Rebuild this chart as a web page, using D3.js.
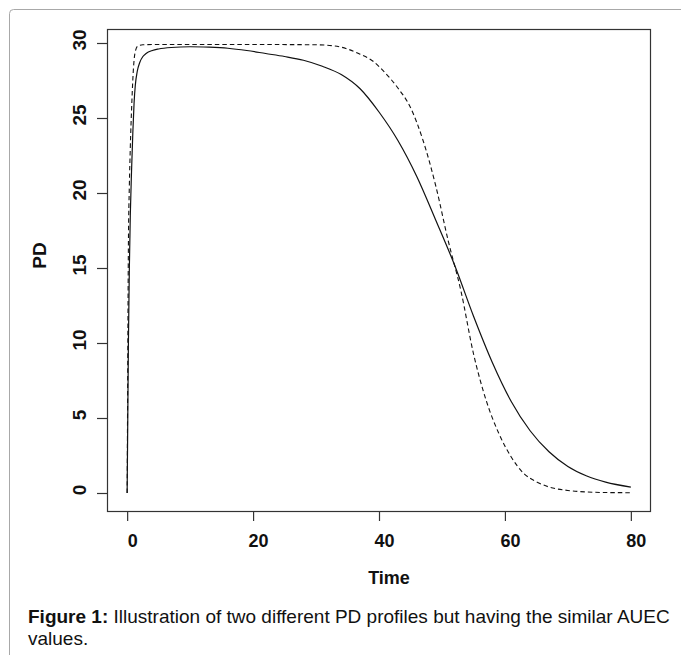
<!DOCTYPE html>
<html>
<head>
<meta charset="utf-8">
<script src="https://cdn.jsdelivr.net/npm/d3@7"></script>
<style>
  html, body { margin: 0; padding: 0; background: #fff; }
  svg { display: block; }
</style>
</head>
<body>
<script>
// ---- data ----
const solidTime  = [0, 0.1, 0.2, 0.35, 0.5, 0.7, 0.9, 1.1, 1.3, 1.6, 2, 2.5, 3, 4, 5, 7, 10, 13, 16, 19, 22, 25, 28, 31, 34, 37, 40, 43, 46, 49, 52, 55, 58, 61, 64, 67, 70, 73, 76, 80];
const solidPD    = [0, 5, 10, 15, 18.5, 21.5, 24, 26, 27.2, 28.1, 28.7, 29.1, 29.3, 29.5, 29.6, 29.7, 29.75, 29.72, 29.65, 29.5, 29.3, 29.1, 28.85, 28.45, 27.9, 26.95, 25.4, 23.5, 21.1, 18.2, 15.2, 11.8, 8.7, 6.1, 4.15, 2.75, 1.77, 1.13, 0.72, 0.39];
const dashedTime = [0, 0.05, 0.1, 0.2, 0.35, 0.5, 0.75, 1.0, 1.3, 1.7, 2.5, 5, 10, 20, 30, 33, 35, 37, 39, 41, 43, 45, 47, 49, 51, 53, 55, 57, 59, 61, 63, 65, 67, 70, 73, 76, 80];
const dashedPD   = [0, 4, 9, 16.5, 20.5, 23, 26.1, 28.3, 29.45, 29.8, 29.88, 29.9, 29.9, 29.9, 29.88, 29.8, 29.6, 29.25, 28.8, 28.0, 27.0, 25.7, 23.5, 20.5, 16.8, 13.5, 9.3, 6.2, 4.0, 2.4, 1.3, 0.75, 0.4, 0.17, 0.07, 0.03, 0.02];
const xTicks = [0, 20, 40, 60, 80];
const yTicks = [0, 5, 10, 15, 20, 25, 30];
const xTitle = "Time";
const yTitle = "PD";
const captionBold = "Figure 1:";
const captionLine1 = " Illustration of two different PD profiles but having the similar AUEC";
const captionLine2 = "values.";

// ---- layout ----
const W = 681, H = 655;
const plot = { left: 107, right: 651, top: 29, bottom: 512 };

const svg = d3.select("body").append("svg")
  .attr("width", W).attr("height", H);

// outer figure frame
svg.append("rect")
  .attr("x", 9.5).attr("y", 9.5)
  .attr("width", 720).attr("height", 720)
  .attr("rx", 4).attr("ry", 4)
  .attr("fill", "none")
  .attr("stroke", "#a8a8a8")
  .attr("stroke-width", 1);

const x = d3.scaleLinear().domain([-3.2, 83.2]).range([plot.left, plot.right]);
const y = d3.scaleLinear().domain([-1.2667, 30.9333]).range([plot.bottom, plot.top]);

const font = "'Liberation Sans', Arial, Helvetica, sans-serif";
const ink = "#111";

// plot box
svg.append("rect")
  .attr("x", plot.left + 0.5).attr("y", plot.top + 0.5)
  .attr("width", plot.right - plot.left - 1)
  .attr("height", plot.bottom - plot.top - 1)
  .attr("fill", "none")
  .attr("stroke", "#333")
  .attr("stroke-width", 1.2);

// x axis (R style: ticks below box)
const gx = svg.append("g").attr("transform", `translate(0,${plot.bottom})`);
gx.call(d3.axisBottom(x).tickValues(xTicks).tickSize(9).tickFormat(d3.format("d")));
gx.select(".domain").remove();
gx.selectAll(".tick line").attr("stroke", "#333").attr("stroke-width", 1.2);
gx.selectAll(".tick text")
  .attr("y", 0).attr("dy", null)
  .attr("transform", "translate(5,29)")
  .attr("dominant-baseline", "central")
  .style("font-family", font).style("font-size", "18px").style("font-weight", "bold")
  .attr("fill", ink);

// y axis
const gy = svg.append("g").attr("transform", `translate(${plot.left},0)`);
gy.call(d3.axisLeft(y).tickValues(yTicks).tickSize(10).tickFormat(d3.format("d")));
gy.select(".domain").remove();
gy.selectAll(".tick line").attr("stroke", "#333").attr("stroke-width", 1.2);
gy.selectAll(".tick text")
  .attr("x", 0).attr("dy", null)
  .attr("text-anchor", "middle")
  .attr("dominant-baseline", "central")
  .attr("transform", "translate(-28,-3.5) rotate(-90)")
  .style("font-family", font).style("font-size", "19px").style("font-weight", "bold")
  .attr("fill", ink);

// axis titles
svg.append("text")
  .attr("x", 389).attr("y", 577.5)
  .attr("text-anchor", "middle").attr("dominant-baseline", "central")
  .style("font-family", font).style("font-size", "18px").style("font-weight", "bold")
  .attr("fill", ink)
  .text(xTitle);

svg.append("text")
  .attr("transform", "translate(39.5,255.5) rotate(-90)")
  .attr("text-anchor", "middle").attr("dominant-baseline", "central")
  .style("font-family", font).style("font-size", "19px").style("font-weight", "bold")
  .attr("fill", ink)
  .text(yTitle);

// curves
const line = d3.line()
  .x(d => x(d[0])).y(d => y(d[1]))
  .curve(d3.curveMonotoneX);

const solidData = solidTime.map((t, i) => [t, solidPD[i]]);
const dashedData = dashedTime.map((t, i) => [t, dashedPD[i]]);

svg.append("path")
  .datum(dashedData)
  .attr("d", line)
  .attr("fill", "none")
  .attr("stroke", ink)
  .attr("stroke-width", 1.1)
  .attr("stroke-dasharray", "4.5,3");

svg.append("path")
  .datum(solidData)
  .attr("d", line)
  .attr("fill", "none")
  .attr("stroke", ink)
  .attr("stroke-width", 1.2);

// caption
const cap = svg.append("text")
  .attr("x", 28).attr("y", 622.5)
  .style("font-family", font).style("font-size", "19px")
  .attr("fill", "#111");
cap.append("tspan").style("font-weight", "bold").text(captionBold);
cap.append("tspan").text(captionLine1);

svg.append("text")
  .attr("x", 28).attr("y", 645)
  .style("font-family", font).style("font-size", "19px")
  .attr("fill", "#111")
  .text(captionLine2);
</script>
</body>
</html>
